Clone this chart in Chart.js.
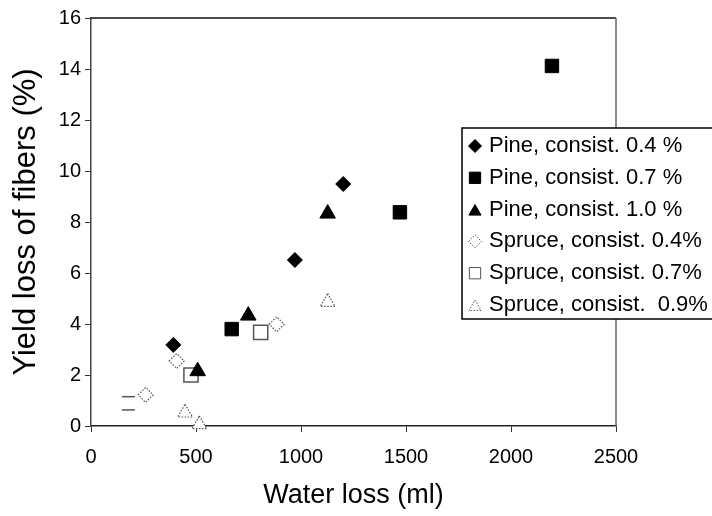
<!DOCTYPE html>
<html>
<head>
<meta charset="utf-8">
<script src="https://cdn.jsdelivr.net/npm/chart.js@4"></script>
<style>
  html, body { margin: 0; padding: 0; background: #fff; }
  #wrap { width: 712px; height: 516px; }
</style>
</head>
<body>
<div id="wrap"><canvas id="c" width="712" height="516"></canvas></div>
<script>
// values
const pine04X = [392, 971, 1201];
const pine04Y = [3.18, 6.51, 9.49];
const pine07X = [670, 1471, 2195];
const pine07Y = [3.8, 8.38, 14.12];
const pine10X = [508, 749, 1127];
const pine10Y = [2.15, 4.33, 8.33];
const spruce04X = [260, 408, 884];
const spruce04Y = [1.22, 2.55, 3.99];
const spruce07X = [178, 178, 476, 808];
const spruce07Y = [1.15, 0.63, 2.0, 3.67];
const spruce09X = [448, 516, 1127];
const spruce09Y = [0.52, 0.06, 4.86];

const seriesLabels = ['Pine, consist. 0.4 %', 'Pine, consist. 0.7 %', 'Pine, consist. 1.0 %',
                      'Spruce, consist. 0.4%', 'Spruce, consist. 0.7%', 'Spruce, consist.  0.9%'];
const xTicks = [0, 500, 1000, 1500, 2000, 2500];
const yTicks = [0, 2, 4, 6, 8, 10, 12, 14, 16];

const FONT = "'Liberation Sans', Arial, sans-serif";
const HOLLOW = '#555';

function pts(xs, ys) { return xs.map((x, i) => ({ x: x, y: ys[i] })); }

const datasets = [
  { label: seriesLabels[0], data: pts(pine04X, pine04Y), pointStyle: 'rectRot', pointRadius: 7.5, backgroundColor: '#000', borderColor: '#000', borderWidth: 1 },
  { label: seriesLabels[1], data: pts(pine07X, pine07Y), pointStyle: 'rect', pointRadius: 9.5, backgroundColor: '#000', borderColor: '#000', borderWidth: 1 },
  { label: seriesLabels[2], data: pts(pine10X, pine10Y), pointStyle: 'triangle', pointRadius: 9, backgroundColor: '#000', borderColor: '#000', borderWidth: 1 },
  { label: seriesLabels[3], data: pts(spruce04X, spruce04Y), pointStyle: 'rectRot', pointRadius: 7.5, backgroundColor: '#fff', borderColor: HOLLOW, borderWidth: 1.2, dotted: true },
  { label: seriesLabels[4], data: pts(spruce07X, spruce07Y), pointStyle: ['line', 'line', 'rect', 'rect'], pointRadius: [6.5, 6.5, 10, 10], backgroundColor: '#fff', borderColor: HOLLOW, borderWidth: 1.5 },
  { label: seriesLabels[5], data: pts(spruce09X, spruce09Y), pointStyle: 'triangle', pointRadius: 8.5, backgroundColor: '#fff', borderColor: HOLLOW, borderWidth: 1.2, dotted: true }
];
datasets.forEach(d => { d.clip = false; d.pointHoverRadius = d.pointRadius; });

// frame round the plot area + dotted outlines for the open markers
const framePlugin = {
  id: 'frame',
  beforeDatasetsDraw(chart) {
    const a = chart.chartArea, ctx = chart.ctx;
    ctx.save();
    ctx.strokeStyle = '#111';
    ctx.lineWidth = 1.5;
    ctx.beginPath();
    ctx.moveTo(a.left, a.top); ctx.lineTo(a.right, a.top);
    ctx.stroke();
    ctx.strokeStyle = '#666';
    ctx.beginPath();
    ctx.moveTo(a.right, a.top); ctx.lineTo(a.right, a.bottom);
    ctx.stroke();
    ctx.restore();
  },
  beforeDatasetDraw(chart, args) {
    if (args.meta._dataset.dotted) chart.ctx.setLineDash([1.5, 1.5]);
  },
  afterDatasetDraw(chart) {
    chart.ctx.setLineDash([]);
  }
};

// legend box sitting over the right edge of the plot
const legendPlugin = {
  id: 'boxLegend',
  afterDraw(chart) {
    const ctx = chart.ctx;
    const left = 462, top = 128, bottom = 319, right = 730;
    ctx.save();
    ctx.fillStyle = '#fff';
    ctx.fillRect(left, top, right - left, bottom - top);
    ctx.strokeStyle = '#000';
    ctx.lineWidth = 1.5;
    ctx.strokeRect(left, top, right - left, bottom - top);
    ctx.font = '22px ' + FONT;
    ctx.textBaseline = 'middle';
    chart.data.datasets.forEach((d, i) => {
      const y = 146 + i * 31.8;
      const style = Array.isArray(d.pointStyle) ? d.pointStyle[d.pointStyle.length - 1] : d.pointStyle;
      ctx.fillStyle = d.backgroundColor;
      ctx.strokeStyle = d.borderColor;
      ctx.lineWidth = 1;
      ctx.setLineDash(i === 3 || i === 5 ? [1.5, 1.5] : []);
      const r = style === 'rect' ? 8 : (style === 'triangle' ? 7 : 6.5);
      Chart.helpers.drawPoint(ctx, { pointStyle: style, radius: r, rotation: 0, borderWidth: 1 }, 475, style === 'triangle' ? y + 2 : y);
      ctx.setLineDash([]);
      ctx.fillStyle = '#000';
      ctx.fillText(d.label, 489, y);
    });
    ctx.restore();
  }
};

new Chart(document.getElementById('c'), {
  type: 'scatter',
  data: { datasets: datasets },
  options: {
    responsive: false,
    animation: false,
    layout: { padding: { left: 0, right: 96, top: 18, bottom: 0 } },
    plugins: { legend: { display: false }, tooltip: { enabled: false } },
    scales: {
      x: {
        type: 'linear', min: 0, max: 2500,
        afterBuildTicks: s => { s.ticks = xTicks.map(v => ({ value: v })); },
        afterFit: s => { s.height = 90; },
        grid: { drawOnChartArea: false, drawTicks: true, tickLength: 6, color: '#333' },
        border: { color: '#222', width: 1.5 },
        ticks: { color: '#000', font: { family: FONT, size: 20 }, padding: 13, maxRotation: 0, callback: v => String(v) },
        title: { display: true, text: 'Water loss (ml)', color: '#000', font: { family: FONT, size: 27, lineHeight: 1.2 }, padding: { top: 0, bottom: 4 } }
      },
      y: {
        type: 'linear', min: 0, max: 16,
        afterBuildTicks: s => { s.ticks = yTicks.map(v => ({ value: v })); },
        afterFit: s => { s.width = 91; },
        grid: { drawOnChartArea: false, drawTicks: true, tickLength: 6, color: '#333' },
        border: { color: '#444', width: 1.5 },
        ticks: { color: '#000', font: { family: FONT, size: 20 }, padding: 4, callback: v => String(v) },
        title: { display: true, text: 'Yield loss of fibers (%)', color: '#000', font: { family: FONT, size: 31, lineHeight: 1.2 }, padding: { top: 8, bottom: 0 } }
      }
    }
  },
  plugins: [framePlugin, legendPlugin]
});
</script>
</body>
</html>
